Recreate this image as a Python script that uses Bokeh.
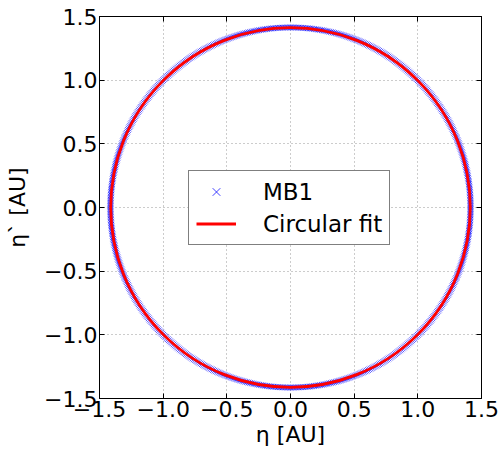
import numpy as np
from bokeh.plotting import figure
from bokeh.models import (Range1d, FixedTicker, CustomJSTickFormatter, Legend, LegendItem,
                          LinearAxis)
from bokeh.embed import file_html
from bokeh.resources import INLINE

# data
tick_values = [-1.5, -1.0, -0.5, 0.0, 0.5, 1.0, 1.5]
fit_center_x = [0.0]
fit_center_y = [0.0]
fit_radius = 1.412
mb1_radius = 1.414
mb1_angle_deg = np.arange(0.0, 360.0, 0.5)   # orbit sampling (dense)

mb1_x = mb1_radius * np.cos(np.deg2rad(mb1_angle_deg))
mb1_y = mb1_radius * np.sin(np.deg2rad(mb1_angle_deg))

FONT = "DejaVu Sans"

p = figure(output_backend="svg", toolbar_location=None,
           width=500, height=456,
           x_range=Range1d(-1.5, 1.5), y_range=Range1d(-1.5, 1.5),
           min_border_left=99, min_border_right=19, min_border_top=16, min_border_bottom=58,
           background_fill_color="white", border_fill_color="white")

r_mb1 = p.scatter(mb1_x, mb1_y, marker="x", size=8, color="blue", line_width=1, alpha=0.65)
r_fit = p.circle(x=fit_center_x, y=fit_center_y, radius=fit_radius, fill_color=None,
                 line_color="red", line_width=2.8)

# legend-only renderers (not drawn: NaN data)
leg_mb1 = p.scatter(x=[np.nan], y=[np.nan], marker="x", size=7, color="blue", line_width=1, alpha=0.75)
leg_fit = p.line(x=[np.nan, np.nan], y=[np.nan, np.nan], line_color="red", line_width=2.8)

fmt = CustomJSTickFormatter(code="return tick.toFixed(1).replace('-', '\u2212');")
for ax in (p.xaxis[0], p.yaxis[0]):
    ax.ticker = FixedTicker(ticks=tick_values)
    ax.formatter = fmt
    ax.major_tick_in = 5
    ax.major_tick_out = 0
    ax.minor_tick_line_color = None
    ax.major_tick_line_color = "black"
    ax.axis_line_color = "black"
    ax.major_label_text_font = FONT
    ax.major_label_text_font_size = "22px"
    ax.major_label_text_color = "black"
    ax.axis_label_text_font = FONT
    ax.axis_label_text_font_size = "22px"
    ax.axis_label_text_font_style = "normal"
    ax.axis_label_text_color = "black"
    ax.major_label_standoff = 2

p.xaxis.axis_label = "η [AU]"
p.yaxis.axis_label = "η` [AU]"
p.xaxis.axis_label_standoff = 2
p.yaxis.axis_label_standoff = 11

# ticks on top and right sides (no labels)
blank = CustomJSTickFormatter(code="return '';")
for side in ("above", "right"):
    ax = LinearAxis(ticker=FixedTicker(ticks=tick_values), formatter=blank,
                    major_tick_in=5, major_tick_out=0, minor_tick_line_color=None,
                    major_tick_line_color="black", axis_line_color="black",
                    major_label_standoff=0, major_label_text_font_size="1px")
    p.add_layout(ax, side)

p.outline_line_color = "black"
p.outline_line_width = 1
p.grid.grid_line_color = "#999999"
p.grid.grid_line_dash = "1 3"
p.grid.grid_line_width = 1
p.grid.ticker = FixedTicker(ticks=tick_values)

legend = Legend(items=[LegendItem(label="MB1", renderers=[leg_mb1]),
                       LegendItem(label="Circular fit", renderers=[leg_fit])],
                location=(89, 153))
legend.label_text_font = FONT
legend.label_text_font_size = "23px"
legend.label_text_color = "black"
legend.border_line_color = "black"
legend.border_line_width = 1
legend.background_fill_color = "white"
legend.background_fill_alpha = 1
legend.glyph_width = 40
legend.glyph_height = 27
legend.label_standoff = 27
legend.label_height = 27
legend.padding = 7
legend.spacing = 5
legend.margin = 0
p.add_layout(legend, "center")

open("out.html", "w").write(file_html(p, INLINE))
